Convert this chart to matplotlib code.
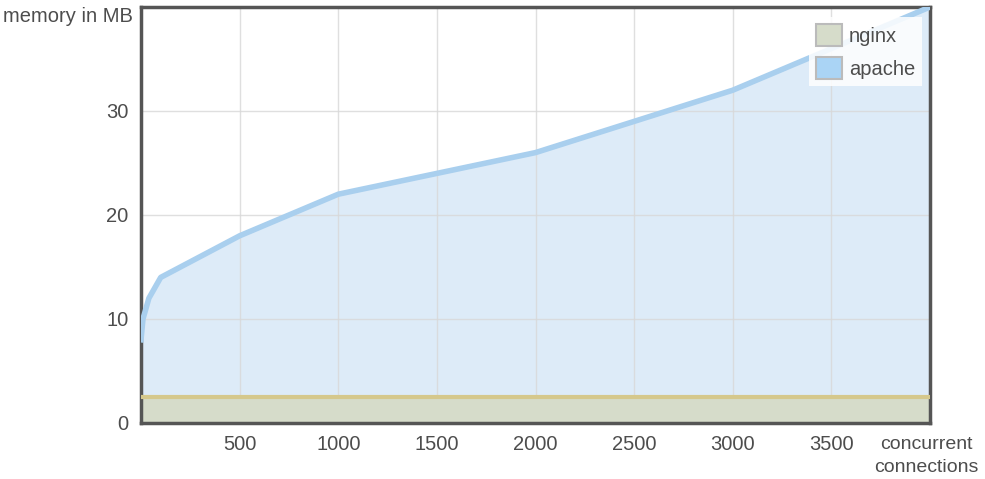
import matplotlib
matplotlib.use("Agg")
import matplotlib.pyplot as plt
from matplotlib.patches import Patch

plt.rcParams['font.family'] = ['Liberation Sans', 'DejaVu Sans']

connections = [0, 10, 40, 100, 500, 1000, 1500, 2000, 2500, 3000, 3500, 4000]
apache_mb = [8, 10, 12, 14, 18, 22, 24, 26, 29, 32, 36, 40]
nginx_x = [0, 4000]
nginx_mb = [2.5, 2.5]
x_ticks = [500, 1000, 1500, 2000, 2500, 3000, 3500]
y_ticks = [0, 10, 20, 30]

txt = '#4d4d4d'
fs = 14.5
fig = plt.figure(figsize=(9.85, 4.79), dpi=100)
ax = fig.add_axes([141/985, 1 - 423/479, (930-141)/985, (423-7)/479])

ax.fill_between(connections, apache_mb, 0, color='#ddebf8', zorder=1)
ax.plot(connections, apache_mb, color='#a9cfee', lw=4, zorder=3, solid_joinstyle='round')
ax.fill_between(nginx_x, nginx_mb, 0, color='#d6dcca', zorder=2)
ax.plot(nginx_x, nginx_mb, color='#d5c88c', lw=3, zorder=3)

ax.set_xlim(0, 4000)
ax.set_ylim(0, 40)
ax.set_xticks(x_ticks)
ax.set_yticks(y_ticks)
ax.grid(True, color='#d8d8d8', lw=1, zorder=0)
for gl in ax.get_xgridlines() + ax.get_ygridlines():
    gl.set_zorder(2.5)
    gl.set_alpha(0.8)
ax.tick_params(length=0, labelsize=fs, colors=txt, pad=9)
for s in ax.spines.values():
    s.set_color('#555555')
    s.set_linewidth(2.5)

fig.text(133/985, 1 - 16/479, 'memory in MB', ha='right', va='center', fontsize=fs, color=txt)
fig.text(926/985, 1 - 456/479, 'concurrent\nconnections', ha='center', va='center',
         fontsize=14, color=txt, linespacing=1.4)

handles = [Patch(facecolor='#d6dcca', edgecolor='#bbbbbb', lw=1.5, label='nginx'),
           Patch(facecolor='#aad4f5', edgecolor='#bbbbbb', lw=1.5, label='apache')]
leg = ax.legend(handles=handles, loc='upper right', bbox_to_anchor=(0.99, 0.975),
                borderaxespad=0,
                fontsize=fs, frameon=True, fancybox=False, framealpha=0.85,
                edgecolor='none', handlelength=1.3, handleheight=1.3,
                handletextpad=0.35, borderpad=0.35, labelspacing=0.55)
for t in leg.get_texts():
    t.set_color(txt)

fig.savefig('out.png', dpi=100)
